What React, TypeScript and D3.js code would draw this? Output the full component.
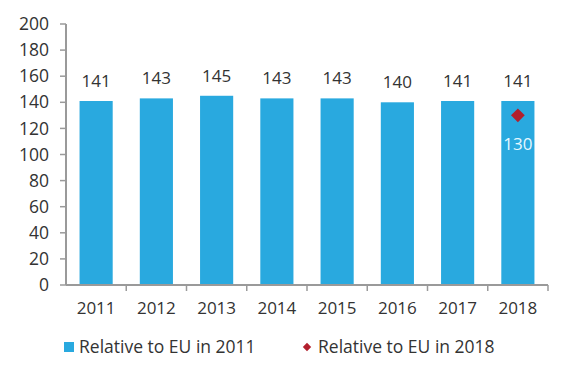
import React from "react";
import * as d3 from "d3";

const years = ["2011", "2012", "2013", "2014", "2015", "2016", "2017", "2018"];
const relative2011 = [141, 143, 145, 143, 143, 140, 141, 141];
const rel2018Year = "2018";
const rel2018Value = 130;
const yTicks = [0, 20, 40, 60, 80, 100, 120, 140, 160, 180, 200];
const legendLabels = ["Relative to EU in 2011", "Relative to EU in 2018"];

const W = 571;
const H = 378;
const left = 66;
const right = 548;
const top = 24;
const bottom = 285;
const barColor = "#29a9df";
const diamondColor = "#b21f2d";
const axisColor = "#9a9a9a";
const textColor = "#333333";
const font = "'Open Sans', 'DejaVu Sans', sans-serif";

export default function App() {
  const x = d3.scaleBand().domain(years).range([left, right]).paddingInner(0.45).paddingOuter(0.225);
  const xb = d3.scaleBand().domain(years).range([left, right]);
  const y = d3.scaleLinear().domain([0, 200]).range([bottom, top]);
  const diamond = d3.symbol().type(d3.symbolDiamond2).size(120)();
  const legendDiamond = d3.symbol().type(d3.symbolDiamond2).size(45)();

  return (
    <svg width={W} height={H} style={{ position: "absolute", left: 0, top: 0, background: "#fff" }} fontFamily={font}>
      {years.map((yr, i) => (
        <rect key={yr} x={x(yr)} y={y(relative2011[i])} width={x.bandwidth()} height={bottom - y(relative2011[i])} fill={barColor} />
      ))}
      {years.map((yr, i) => (
        <text key={"l" + yr} x={x(yr)! + x.bandwidth() / 2} y={y(relative2011[i]) - 14} textAnchor="middle" fontSize={17} fill={textColor}>
          {relative2011[i]}
        </text>
      ))}
      <path d={diamond!} transform={`translate(${x(rel2018Year)! + x.bandwidth() / 2},${y(rel2018Value)})`} fill={diamondColor} />
      <text x={x(rel2018Year)! + x.bandwidth() / 2} y={y(rel2018Value) + 35} textAnchor="middle" fontSize={17} fill="#e6f8ff">
        {rel2018Value}
      </text>
      <line x1={left} x2={left} y1={top} y2={bottom} stroke={axisColor} strokeWidth={2} />
      {yTicks.map((t) => (
        <g key={t}>
          <line x1={left - 6} x2={left} y1={y(t)} y2={y(t)} stroke={axisColor} strokeWidth={1.5} />
          <text x={49} y={y(t)} dy="0.35em" textAnchor="end" fontSize={17.5} fill={textColor}>
            {t}
          </text>
        </g>
      ))}
      <line x1={left} x2={right} y1={bottom} y2={bottom} stroke={axisColor} strokeWidth={2} />
      {years.map((yr) => (
        <line key={"t" + yr} x1={xb(yr)! + xb.bandwidth()} x2={xb(yr)! + xb.bandwidth()} y1={bottom} y2={bottom + 6} stroke={axisColor} strokeWidth={1.5} />
      ))}
      {years.map((yr) => (
        <text key={"x" + yr} x={xb(yr)! + xb.bandwidth() / 2} y={bottom + 23} dy="0.35em" textAnchor="middle" fontSize={17} fill={textColor}>
          {yr}
        </text>
      ))}
      <rect x={64} y={342} width={10} height={10} fill={barColor} />
      <text x={79} y={347} dy="0.35em" fontSize={17.5} fill={textColor}>
        {legendLabels[0]}
      </text>
      <path d={legendDiamond!} transform="translate(307,347)" fill={diamondColor} />
      <text x={318} y={347} dy="0.35em" fontSize={17.5} fill={textColor}>
        {legendLabels[1]}
      </text>
    </svg>
  );
}
